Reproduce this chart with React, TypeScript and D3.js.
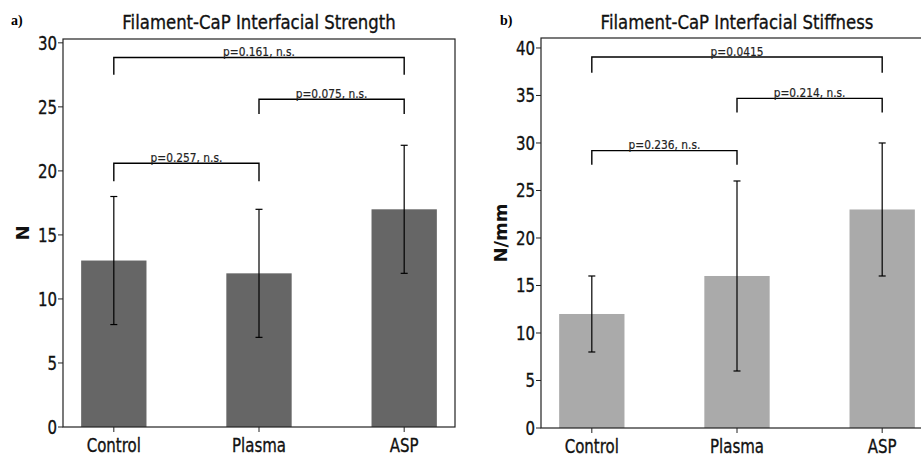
import * as d3 from "d3";

const categories = ["Control", "Plasma", "ASP"];

const strengthMean = [13, 12, 17];
const strengthLow = [8, 7, 12];
const strengthHigh = [18, 17, 22];
const strengthTicks = [0, 5, 10, 15, 20, 25, 30];
const strengthBrackets = [
  { from: 0, to: 2, top: 28.85, leg: 27.5, label: "p=0.161, n.s." },
  { from: 1, to: 2, top: 25.6, leg: 24.45, label: "p=0.075, n.s." },
  { from: 0, to: 1, top: 20.6, leg: 19.2, label: "p=0.257, n.s." },
];

const stiffMean = [12, 16, 23];
const stiffLow = [8, 6, 16];
const stiffHigh = [16, 26, 30];
const stiffTicks = [0, 5, 10, 15, 20, 25, 30, 35, 40];
const stiffBrackets = [
  { from: 0, to: 2, top: 39.05, leg: 37.4, label: "p=0.0415" },
  { from: 1, to: 2, top: 34.7, leg: 33.2, label: "p=0.214, n.s." },
  { from: 0, to: 1, top: 29.2, leg: 27.7, label: "p=0.236, n.s." },
];

const FONT = "DejaVu Sans";
// the source figure is squeezed sideways, so text gets a horizontal squash
const SQX = 0.79;

type Bracket = { from: number; to: number; top: number; leg: number; label: string };

type PanelProps = {
  left: number;
  right: number;
  top: number;
  bottom: number;
  yMax: number;
  mean: number[];
  low: number[];
  high: number[];
  ticks: number[];
  brackets: Bracket[];
  fill: string;
  title: string;
  yLabel: string;
  yLabelX: number;
  tag: string;
  tagX: number;
};

function Panel(p: PanelProps) {
  const x = d3.scaleLinear().domain([-0.35, 2.35]).range([p.left, p.right]);
  const y = d3.scaleLinear().domain([0, p.yMax]).range([p.bottom, p.top]);
  const bw = x(0.45) - x(0);
  const midY = (p.top + p.bottom) / 2;

  return (
    <g fontFamily={FONT}>
      <text x={p.tagX} y={25} fontFamily="Liberation Serif" fontWeight="bold" fontSize={14}>
        {p.tag}
      </text>
      <text
        transform={`translate(${(p.left + p.right) / 2},28.5) scale(0.87,1)`}
        textAnchor="middle"
        fontSize={19}
        fill="#111"
        stroke="#111"
        strokeWidth={0.35}
      >
        {p.title}
      </text>
      <text
        transform={`translate(${p.yLabelX},${midY}) rotate(-90)`}
        textAnchor="middle"
        fontSize={18}
        fontWeight="bold"
        fill="#111"
      >
        {p.yLabel}
      </text>

      {categories.map((c, i) => (
        <rect
          key={c}
          x={x(i) - bw / 2}
          y={y(p.mean[i])}
          width={bw}
          height={y(0) - y(p.mean[i])}
          fill={p.fill}
        />
      ))}

      {categories.map((c, i) => (
        <g key={"e" + c} stroke="#000" strokeWidth={1.2}>
          <line x1={x(i)} x2={x(i)} y1={y(p.low[i])} y2={y(p.high[i])} />
          <line x1={x(i) - 3.5} x2={x(i) + 3.5} y1={y(p.low[i])} y2={y(p.low[i])} />
          <line x1={x(i) - 3.5} x2={x(i) + 3.5} y1={y(p.high[i])} y2={y(p.high[i])} />
        </g>
      ))}

      {p.brackets.map((b) => (
        <g key={b.label}>
          <path
            d={`M${x(b.from)},${y(b.leg)}V${y(b.top)}H${x(b.to)}V${y(b.leg)}`}
            fill="none"
            stroke="#000"
            strokeWidth={1.4}
          />
          <text
            transform={`translate(${(x(b.from) + x(b.to)) / 2},${y(b.top) - 1.5}) scale(0.85,1)`}
            textAnchor="middle"
            fontSize={12.5}
            fill="#222"
            stroke="#222"
            strokeWidth={0.2}
          >
            {b.label}
          </text>
        </g>
      ))}

      <rect
        x={p.left}
        y={p.top}
        width={p.right - p.left}
        height={p.bottom - p.top}
        fill="none"
        stroke="#222"
        strokeWidth={1.2}
      />

      {p.ticks.map((t) => (
        <g key={t} transform={`translate(0,${y(t)})`}>
          <line x1={p.left - 5} x2={p.left} stroke="#222" strokeWidth={1} />
          <text
            transform={`translate(${p.left - 6},0) scale(${SQX},1)`}
            dy="0.36em"
            textAnchor="end"
            fontSize={19}
            fill="#111"
            stroke="#111"
            strokeWidth={0.35}
          >
            {t}
          </text>
        </g>
      ))}

      {categories.map((c, i) => (
        <g key={"t" + c} transform={`translate(${x(i)},${p.bottom})`}>
          <line y1={0} y2={5} stroke="#222" strokeWidth={1} />
          <text
            transform={`translate(0,24.5) scale(${SQX},1)`}
            textAnchor="middle"
            fontSize={19}
            fill="#111"
            stroke="#111"
            strokeWidth={0.35}
          >
            {c}
          </text>
        </g>
      ))}
    </g>
  );
}

export default function App() {
  return (
    <svg
      width={921}
      height={456}
      style={{ position: "absolute", left: 0, top: 0, background: "#fff" }}
    >
      <rect width={921} height={456} fill="#fff" />
      <Panel
        left={63}
        right={455}
        top={39}
        bottom={427}
        yMax={30.3}
        mean={strengthMean}
        low={strengthLow}
        high={strengthHigh}
        ticks={strengthTicks}
        brackets={strengthBrackets}
        fill="#666666"
        title="Filament-CaP Interfacial Strength"
        yLabel="N"
        yLabelX={29}
        tag="a)"
        tagX={11}
      />
      <Panel
        left={541}
        right={933}
        top={38}
        bottom={428}
        yMax={41.05}
        mean={stiffMean}
        low={stiffLow}
        high={stiffHigh}
        ticks={stiffTicks}
        brackets={stiffBrackets}
        fill="#aaaaaa"
        title="Filament-CaP Interfacial Stiffness"
        yLabel="N/mm"
        yLabelX={507}
        tag="b)"
        tagX={500}
      />
    </svg>
  );
}
